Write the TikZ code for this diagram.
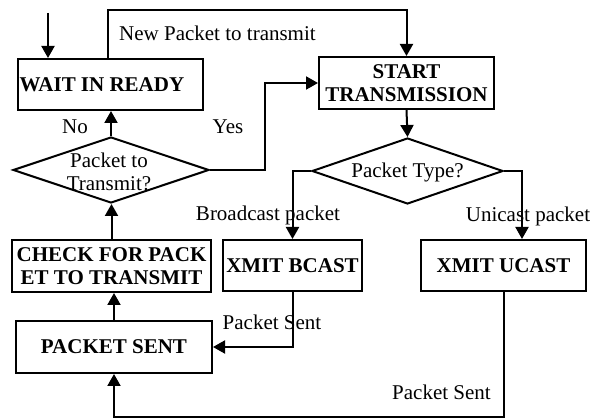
\documentclass[tikz,border=0pt]{standalone}
\usepackage{fontspec}
\setmainfont{Liberation Serif}
\usetikzlibrary{arrows.meta,shapes.geometric,calc}
\begin{document}
\begin{tikzpicture}[x=1pt,y=-1pt,
  every node/.style={font=\fontsize{21}{23.5}\selectfont},
  box/.style={draw,line width=2pt,inner sep=0pt,align=center,font=\fontsize{21}{23.5}\selectfont\bfseries},
  dia/.style={draw,diamond,line width=2pt,inner sep=0pt},
  lab/.style={inner sep=0pt,align=center},
  arr/.style={line width=2pt,-{Triangle[length=12pt,width=13pt]}}]
\useasboundingbox (0,0) rectangle (592,419);
% boxes
\node[box,minimum width=185pt,minimum height=51pt] (wait) at (110.5,84.5) {WAIT IN READY\hspace*{17pt}};
\node[box,minimum width=175pt,minimum height=52pt] (start) at (406.5,83) {START\\TRANSMISSION};
\node[box,minimum width=139pt,minimum height=51pt] (bcast) at (292.5,265.5) {XMIT BCAST};
\node[box,minimum width=165pt,minimum height=51pt] (ucast) at (503.5,265.5) {XMIT UCAST};
\node[box,minimum width=199pt,minimum height=52pt] (check) at (111.5,266) {CHECK FOR PACK\\ET TO TRANSMIT};
\node[box,minimum width=196pt,minimum height=52pt] (sent) at (114,347) {PACKET SENT};
% diamonds
\node[dia,minimum width=196pt,minimum height=66pt] (d1) at (111,170) {};
\node[lab] (d1t) at (109,172) {Packet to\\Transmit?};
\node[dia,minimum width=191pt,minimum height=66pt] (d2) at (407.5,171) {};
\node[lab] (d2t) at (407.5,172) {Packet Type?};
% coordinates
\coordinate (entry) at (48,13);
\coordinate (n1) at (108,10);
\coordinate (u1) at (522,0);
\coordinate (y1) at (265,0);
\coordinate (b1) at (0,417);
% connectors
\draw[arr] (entry) -- (entry |- wait.north);
\draw[arr] (n1 |- wait.north) -- (n1) -| (start.north);
\draw[arr] (start.south) -- (d2.north);
\draw[arr] (d2.west) -| (bcast.north);
\draw[arr] (d2.east) -| (ucast.north -| u1);
\draw[arr] (bcast.south) |- (sent.east);
\draw[arr] (ucast.south) -- (ucast.south |- b1) -| (sent.south);
\draw[arr] (sent.north) -- (sent.north |- check.south);
\draw[arr] (check.north) -- (check.north |- d1.south);
\draw[arr] (d1.north) -- (d1.north |- wait.south);
\draw[arr] (d1.east) -- (d1.east -| y1) |- (start.west);
% labels
\node[lab,anchor=west] (l1) at (119,33) {New Packet to transmit};
\node[lab] (l2) at (75,127) {No};
\node[lab] (l3) at (228,127) {Yes};
\node[lab] (l4) at (268,215) {Broadcast packet};
\node[lab] (l5) at (528,216) {Unicast packet};
\node[lab] (l6) at (272,322) {Packet Sent};
\node[lab] (l7) at (441.5,392) {Packet Sent};
\end{tikzpicture}
\end{document}
